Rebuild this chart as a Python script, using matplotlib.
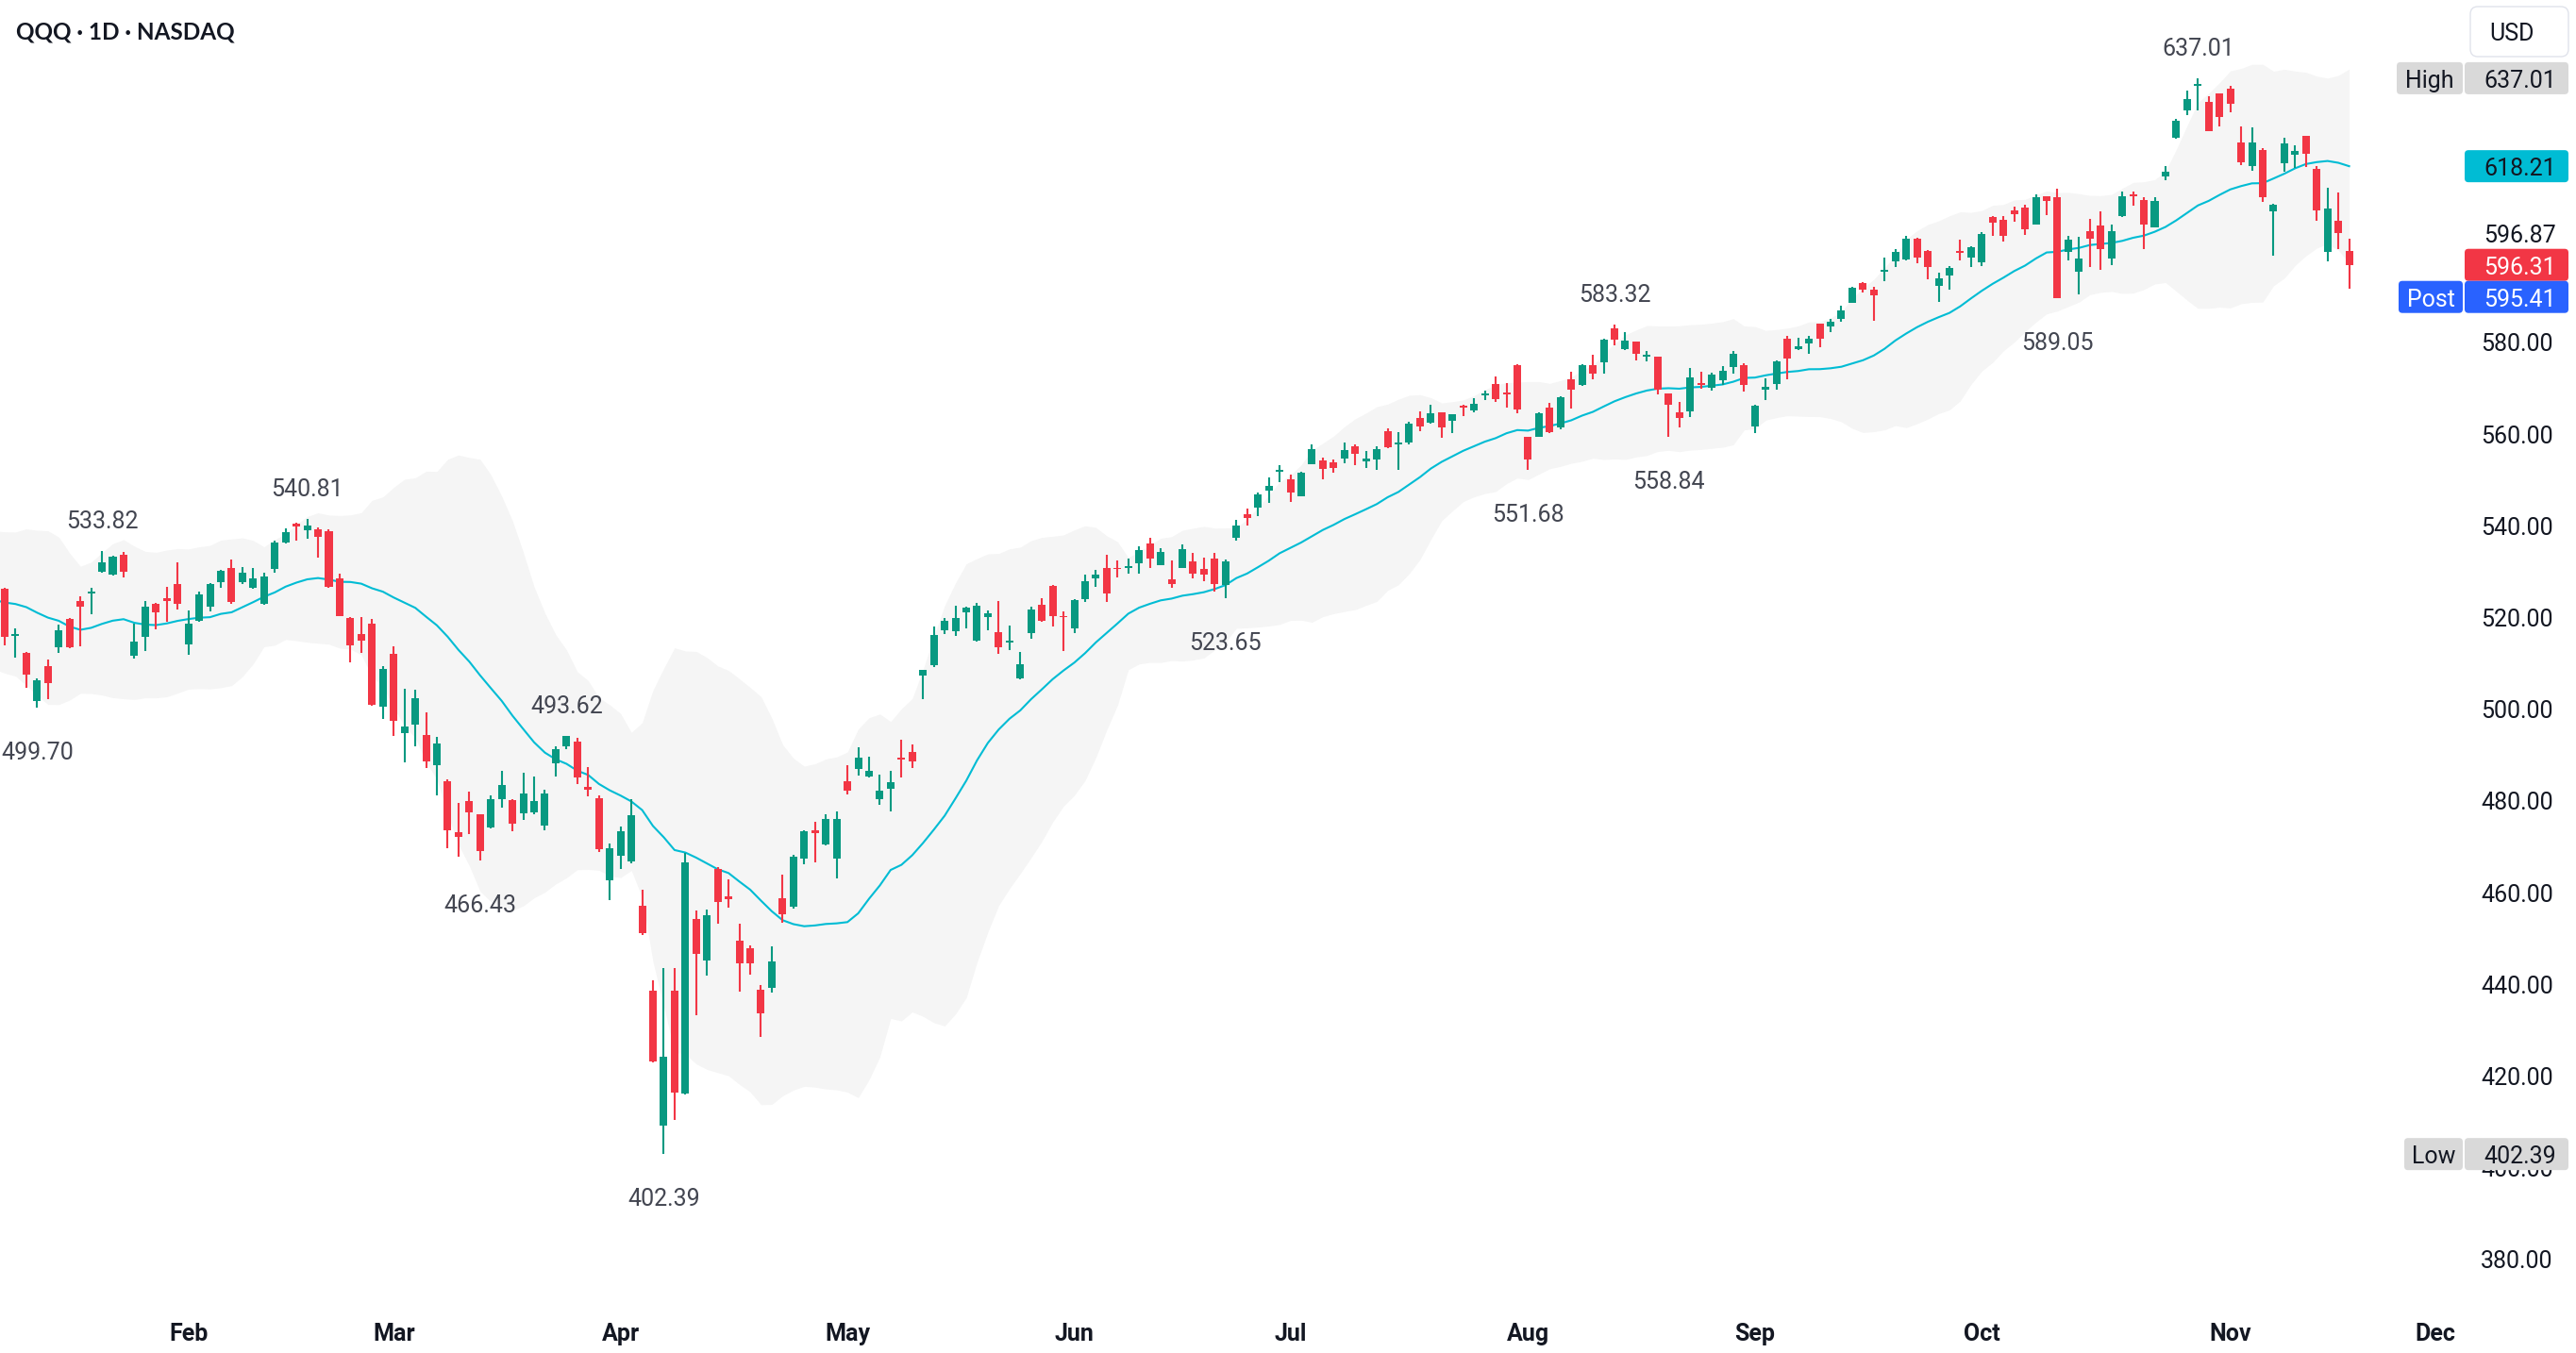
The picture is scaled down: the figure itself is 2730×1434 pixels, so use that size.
import numpy as np
import pandas as pd
import matplotlib
matplotlib.use("Agg")
import matplotlib.pyplot as plt
from matplotlib import font_manager
from matplotlib.patches import FancyBboxPatch
from matplotlib.transforms import IdentityTransform, ScaledTranslation

plt.rcParams['font.family'] = ['Roboto', 'DejaVu Sans']

# trading days shown on the chart (2025)
trading_days = {
    1: [7, 8, 10, 13, 14, 15, 16, 17, 21, 22, 23, 24, 27, 28, 29, 30, 31],
    2: [3, 4, 5, 6, 7, 10, 11, 12, 13, 14, 18, 19, 20, 21, 24, 25, 26, 27, 28],
    3: [3, 4, 5, 6, 7, 10, 11, 12, 13, 14, 17, 18, 19, 20, 21, 24, 25, 26, 27, 28, 31],
    4: [1, 2, 3, 4, 7, 8, 9, 10, 11, 14, 15, 16, 17, 21, 22, 23, 24, 25, 28, 29, 30],
    5: [1, 2, 5, 6, 7, 8, 9, 12, 13, 14, 15, 16, 19, 20, 21, 22, 23, 27, 28, 29, 30],
    6: [2, 3, 4, 5, 6, 9, 10, 11, 12, 13, 16, 17, 18, 20, 23, 24, 25, 26, 27, 30],
    7: [1, 2, 3, 7, 8, 9, 10, 11, 14, 15, 16, 17, 18, 21, 22, 23, 24, 25, 28, 29, 30, 31],
    8: [1, 4, 5, 6, 7, 8, 11, 12, 13, 14, 15, 18, 19, 20, 21, 22, 25, 26, 27, 28, 29],
    9: [2, 3, 4, 5, 8, 9, 10, 11, 12, 15, 16, 17, 18, 19, 22, 23, 24, 25, 26, 29, 30],
    10: [1, 2, 3, 6, 7, 8, 9, 10, 13, 14, 15, 16, 17, 20, 21, 22, 23, 24, 27, 28, 29, 30, 31],
    11: [3, 4, 5, 6, 7, 10, 11, 12, 13, 14, 17, 18],
}
# empty future sessions on the time axis (up to the Dec label)
future_days = ["2025-11-19", "2025-11-20", "2025-11-21", "2025-11-24",
               "2025-11-25", "2025-11-26", "2025-11-28", "2025-12-01"]

opens = [
    525.7, 515.3, 511.6, 501.1, 508.8, 513.0, 519.1, 522.9, 524.7, 529.4, 528.8, 533.0, 511.0, 515.1, 522.4, 523.6, 526.8,
    513.5, 518.6, 521.7, 527.2, 530.2, 527.1, 525.8, 522.4, 529.9, 535.8, 539.9, 538.4, 538.6, 538.3, 527.9, 519.3, 515.7, 518.1, 500.0,
    511.4, 494.1, 496.1, 493.8, 487.1, 483.6, 472.6, 479.4, 476.4, 473.7, 479.7, 479.5, 476.8, 477.0, 474.0, 487.7, 491.4, 492.3, 482.4, 480.0, 462.0,
    467.4, 466.2, 456.6, 438.1, 408.5, 438.1, 415.5, 453.7, 444.6, 464.6, 458.6, 449.0, 447.2, 438.2, 438.7, 458.1, 456.3, 466.8, 473.1, 470.0, 466.9,
    483.6, 486.4, 484.7, 479.7, 482.1, 488.8, 490.1, 506.8, 509.0, 516.7, 516.5, 520.6, 514.3, 519.4, 516.2, 513.9, 506.2, 516.1, 522.2, 526.3, 519.6,
    517.1, 523.4, 527.9, 530.1, 530.1, 530.1, 531.2, 535.6, 530.9, 527.7, 530.3, 531.6, 529.9, 532.2, 526.6, 536.7, 541.9, 543.3, 547.1, 551.1,
    549.6, 545.9, 552.9, 553.6, 553.3, 554.1, 556.7, 553.5, 553.8, 560.0, 557.2, 557.6, 562.9, 561.8, 564.1, 562.2, 565.4, 564.6, 567.8, 570.4, 568.2, 574.4,
    558.7, 558.9, 565.1, 560.8, 571.4, 570.2, 574.4, 575.0, 582.4, 578.0, 579.5, 576.2, 576.2, 568.2, 564.1, 564.4, 570.5, 569.6, 571.2, 574.0, 574.4,
    561.1, 569.0, 570.4, 580.1, 577.9, 579.2, 583.4, 582.9, 584.6, 588.1, 592.3, 590.8, 594.9, 597.0, 597.4, 602.1, 599.3, 591.8, 594.0, 599.1, 598.0,
    596.8, 606.7, 606.1, 608.2, 608.8, 605.0, 611.2, 611.1, 599.2, 594.9, 603.7, 604.8, 597.6, 606.9, 611.6, 610.4, 604.5, 615.5, 624.1, 629.9, 635.3, 631.8, 633.6,
    634.7, 623.0, 617.9, 621.4, 607.9, 618.5, 620.3, 624.4, 617.2, 599.2, 605.9, 599.3,
]
highs = [
    525.9, 517.1, 511.8, 506.1, 510.3, 517.8, 519.3, 524.1, 525.8, 533.82, 532.9, 533.7, 518.1, 522.9, 522.6, 526.0, 531.4,
    521.0, 525.0, 527.0, 529.8, 532.1, 530.5, 530.1, 529.1, 536.2, 538.9, 540.0, 540.81, 539.0, 538.6, 528.9, 519.4, 519.6, 519.1, 508.8,
    513.1, 503.9, 503.7, 498.7, 493.4, 484.1, 479.0, 481.4, 476.6, 480.6, 485.9, 479.7, 485.5, 484.8, 481.8, 491.4, 493.62, 493.1, 486.7, 480.6, 470.1,
    473.8, 479.7, 460.1, 440.3, 443.0, 443.0, 468.0, 455.5, 455.7, 465.0, 462.2, 452.6, 447.9, 439.2, 447.7, 463.3, 467.7, 473.1, 474.8, 476.4, 477.2,
    487.3, 491.1, 489.1, 485.1, 485.9, 492.8, 491.7, 508.0, 517.4, 519.2, 522.0, 521.8, 522.5, 520.9, 522.9, 517.6, 511.9, 521.7, 523.6, 526.5, 520.7,
    523.4, 528.8, 529.8, 533.0, 531.9, 532.2, 534.9, 536.8, 534.6, 531.9, 535.4, 533.4, 532.5, 533.5, 532.0, 540.7, 543.1, 546.6, 550.0, 552.6,
    550.5, 551.1, 557.2, 554.3, 553.8, 557.6, 557.2, 555.7, 556.8, 560.6, 559.9, 562.0, 564.4, 565.9, 564.2, 563.8, 565.9, 567.3, 568.9, 571.9, 570.5, 574.6,
    558.9, 564.2, 566.3, 567.7, 573.1, 574.7, 576.7, 580.2, 583.32, 581.6, 579.6, 577.5, 576.3, 568.3, 566.4, 573.8, 573.1, 572.8, 574.2, 577.6, 574.9,
    565.8, 571.6, 575.5, 580.8, 580.5, 580.8, 583.5, 584.6, 587.5, 591.5, 592.5, 591.5, 597.8, 599.8, 602.6, 602.3, 599.5, 594.7, 596.1, 601.8, 600.4,
    603.5, 606.9, 607.0, 609.0, 609.5, 611.6, 611.3, 612.9, 602.6, 602.4, 606.3, 607.9, 605.2, 612.4, 612.4, 611.0, 611.0, 617.9, 628.2, 634.3, 637.01, 633.0, 633.8,
    635.3, 626.5, 626.3, 621.7, 609.6, 624.0, 622.3, 624.5, 617.9, 613.1, 612.1, 602.1,
]
lows = [
    513.3, 510.7, 504.1, 499.7, 501.7, 511.6, 512.8, 513.1, 520.2, 529.2, 528.6, 528.2, 510.4, 512.0, 516.9, 518.4, 521.2,
    511.2, 518.5, 520.7, 525.8, 522.3, 526.7, 525.7, 522.1, 529.2, 535.6, 536.1, 536.5, 532.5, 525.8, 519.7, 509.6, 511.6, 500.2, 497.2,
    493.6, 487.9, 491.4, 486.5, 480.7, 469.0, 467.3, 472.1, 466.43, 473.4, 477.9, 472.7, 475.2, 476.4, 473.1, 484.7, 490.6, 483.0, 480.5, 468.3, 457.7,
    464.6, 465.9, 450.2, 422.3, 402.39, 409.8, 415.3, 432.7, 441.4, 452.7, 456.2, 437.8, 441.5, 428.0, 437.6, 452.8, 456.0, 465.5, 466.1, 469.7, 462.6,
    480.8, 485.0, 484.5, 478.5, 477.1, 484.5, 486.5, 501.7, 508.5, 515.9, 515.3, 517.0, 514.2, 516.7, 511.4, 512.4, 505.9, 514.7, 518.4, 517.4, 512.0,
    516.1, 522.7, 526.0, 522.7, 528.2, 529.0, 529.0, 530.1, 530.8, 525.8, 530.2, 528.0, 527.4, 525.1, 523.65, 536.2, 539.4, 541.6, 544.5, 549.0,
    544.7, 545.8, 552.8, 549.6, 551.0, 553.1, 552.7, 552.0, 551.7, 556.4, 551.5, 557.2, 560.0, 561.7, 558.6, 559.6, 563.3, 564.2, 566.8, 566.5, 565.1, 563.9,
    551.68, 558.7, 559.6, 560.5, 565.0, 569.9, 571.4, 572.6, 578.8, 577.7, 575.5, 575.2, 568.1, 558.84, 560.9, 563.2, 569.2, 568.8, 570.2, 572.5, 568.7,
    559.6, 566.8, 569.0, 571.4, 577.7, 577.0, 578.4, 581.6, 584.0, 588.0, 590.3, 584.1, 592.8, 595.8, 597.3, 596.7, 593.2, 588.2, 591.0, 597.2, 595.9,
    596.1, 602.7, 601.3, 605.7, 602.9, 605.0, 607.2, 589.05, 597.2, 589.9, 595.8, 595.3, 596.3, 606.8, 609.2, 599.7, 604.4, 614.8, 623.8, 629.0, 629.9, 625.4, 626.4,
    629.6, 618.1, 616.9, 610.0, 598.4, 616.6, 617.4, 617.6, 605.9, 597.0, 599.7, 591.2,
]
closes = [
    515.1, 515.7, 507.0, 505.7, 505.0, 516.7, 513.0, 521.7, 525.1, 531.4, 532.7, 529.4, 514.2, 521.7, 520.5, 522.9, 522.3,
    518.1, 524.5, 526.8, 529.5, 522.7, 529.1, 527.9, 528.4, 535.8, 538.0, 539.3, 539.4, 537.0, 526.0, 519.8, 513.3, 514.4, 500.3, 508.2,
    496.9, 495.6, 501.9, 488.1, 491.9, 472.9, 471.6, 477.0, 468.4, 479.7, 482.8, 474.5, 481.0, 479.4, 481.0, 490.7, 493.6, 484.5, 481.8, 468.9, 469.1,
    472.8, 476.2, 450.5, 422.5, 423.6, 415.9, 466.1, 446.1, 454.4, 457.4, 457.9, 444.0, 444.0, 433.1, 444.5, 454.6, 467.3, 472.7, 472.3, 475.5, 475.5,
    481.7, 488.8, 485.9, 481.7, 483.5, 488.5, 488.0, 507.9, 515.5, 518.6, 519.2, 521.6, 522.0, 520.3, 513.0, 514.3, 509.2, 521.1, 518.6, 519.8, 519.4,
    523.2, 527.3, 528.7, 524.7, 529.9, 530.6, 534.1, 532.3, 533.6, 526.8, 534.3, 528.9, 528.8, 526.8, 531.6, 539.5, 541.1, 546.2, 548.1, 551.7,
    546.7, 550.9, 556.1, 551.9, 552.1, 556.0, 555.2, 554.1, 556.1, 556.5, 557.4, 561.6, 561.0, 563.9, 560.9, 563.7, 565.2, 566.1, 568.0, 567.0, 568.0, 564.8,
    553.8, 563.9, 559.9, 567.4, 569.0, 574.5, 572.5, 579.9, 580.0, 579.7, 577.0, 576.8, 569.0, 565.7, 563.0, 571.8, 570.2, 572.3, 573.3, 576.9, 570.2,
    565.5, 569.8, 575.2, 575.8, 578.6, 580.3, 580.2, 583.9, 586.3, 591.4, 590.8, 589.6, 595.2, 599.1, 602.1, 597.8, 595.8, 593.4, 595.6, 598.9, 600.2,
    603.0, 605.5, 602.7, 607.4, 604.1, 611.1, 610.3, 589.1, 601.8, 597.6, 602.0, 599.7, 603.7, 611.2, 611.2, 605.2, 610.2, 616.7, 627.7, 632.5, 635.6, 625.5, 628.6,
    631.4, 618.7, 623.0, 611.1, 609.5, 622.7, 621.2, 620.6, 608.1, 608.6, 603.3, 596.31,
]
# closes before the visible range (Dec 6 2024 - Jan 6 2025), only feed the 20-day bands
warmup_close = [526.5, 522.4, 520.6, 529.9, 526.5, 530.5, 538.2, 535.8, 516.5, 514.2,
                518.7, 522.9, 530.0, 529.6, 522.6, 515.6, 511.2, 510.2, 518.6, 524.5]

# swing high / low markers
high_marks = ["2025-01-22", "2025-02-19", "2025-03-25", "2025-08-13", "2025-10-29"]
low_marks = ["2025-01-13", "2025-03-13", "2025-04-07", "2025-06-23", "2025-08-01",
             "2025-08-20", "2025-10-10"]

post_price = 595.41
lower_band_label = 596.87

GREEN = "#089981"
RED = "#f23645"
CYAN = "#00bcd4"
INK = "#131722"

dates = pd.to_datetime([f"2025-{m:02d}-{d:02d}" for m, days in trading_days.items() for d in days])
df = pd.DataFrame({"open": opens, "high": highs, "low": lows, "close": closes}, index=dates)
n = len(df)
x = np.arange(n)

# bollinger bands 20, 2
allc = pd.Series(warmup_close + closes)
basis = allc.rolling(20).mean()
sd = allc.rolling(20).std(ddof=0)
upper = basis + 2 * sd
lower = basis - 2 * sd
xb = np.arange(-len(warmup_close), n)
ok = basis.notna().values

W, H = 2730, 1434
fig = plt.figure(figsize=(W / 100, H / 100), dpi=100)
ax = fig.add_axes([0, 54 / H, 2612 / W, 1380 / H])
ax.set_xlim(-0.437, 227.69)
ax.set_ylim(370.12, 654.07)

ax.fill_between(xb[ok], lower[ok], upper[ok], color="#f5f5f5", linewidth=0, zorder=0)
ax.plot(xb[ok], basis[ok], color=CYAN, lw=1.5, zorder=1)

up = df["close"].values >= df["open"].values
col = np.where(up, GREEN, RED)
ax.vlines(x, df["low"], df["high"], colors=col, linewidth=1.5, zorder=3)
bot = np.minimum(df["open"], df["close"])
hgt = np.maximum(np.abs(df["close"] - df["open"]), 0.4)
ax.bar(x, hgt, bottom=bot, width=0.7, color=col, linewidth=0, zorder=4)

for d in high_marks:
    i = df.index.get_loc(pd.Timestamp(d))
    v = df["high"].iloc[i]
    ax.annotate(f"{v:.2f}", (i, v), xytext=(0, 31), textcoords="offset pixels",
                ha="center", va="center", fontsize=18, color="#434651")
for d in low_marks:
    i = df.index.get_loc(pd.Timestamp(d))
    v = df["low"].iloc[i]
    ax.annotate(f"{v:.2f}", (i, v), xytext=(0, -48), textcoords="offset pixels",
                ha="center", va="center", fontsize=18, color="#434651")

# time axis: first session of each month
all_days = dates.append(pd.to_datetime(future_days))
first = pd.Series(np.arange(len(all_days)), index=all_days).groupby(all_days.to_period("M")).first()
first = first.iloc[1:]
ax.set_xticks(first.values)
ax.set_xticklabels([p.strftime("%b") for p in first.index], fontweight="bold")
ax.tick_params(axis="x", length=0, pad=15.5, labelsize=18, labelcolor=INK)

ax.yaxis.tick_right()
ax.set_yticks(np.arange(380, 581, 20))
ax.set_yticklabels([f"{v:.2f}" for v in np.arange(380, 581, 20)])
ax.tick_params(axis="y", length=0, pad=12.2, labelsize=18, labelcolor=INK)
down = ScaledTranslation(0, -3 / 100, fig.dpi_scale_trans)
for lab in ax.get_yticklabels():
    lab.set_transform(lab.get_transform() + down)
for s in ax.spines.values():
    s.set_visible(False)

px = IdentityTransform()


def ypix(price):
    return ax.transData.transform((0, price))[1]


def tag(yc, text, fc, tc, left=None, ltext=None):
    fig.patches.append(FancyBboxPatch((2612, yc - 17), 110, 34, boxstyle="round,pad=0,rounding_size=4",
                                      transform=px, fc=fc, ec="none"))
    fig.text(2709, yc - 3, text, transform=px, ha="right", va="center", fontsize=18, color=tc)
    if ltext:
        fig.patches.append(FancyBboxPatch((left, yc - 17), 2610 - left, 34, boxstyle="round,pad=0,rounding_size=4",
                                          transform=px, fc=fc, ec="none"))
        fig.text((left + 2610) / 2, yc - 3, ltext, transform=px, ha="center", va="center", fontsize=18, color=tc)


y_last = ypix(closes[-1])
tag(ypix(max(highs)), f"{max(highs):.2f}", "#d9d9d9", INK, 2540, "High")
tag(ypix(basis.iloc[-1]), "618.21", CYAN, INK)
tag(y_last, f"{closes[-1]:.2f}", RED, "white")
tag(y_last - 34, f"{post_price:.2f}", "#2962ff", "white", 2542, "Post")
tag(ypix(min(lows)), f"{min(lows):.2f}", "#d9d9d9", INK, 2548, "Low")
fig.text(2709, y_last + 31, f"{lower_band_label:.2f}", transform=px, ha="right", va="center",
         fontsize=18, color=INK)

# currency button
fig.patches.append(FancyBboxPatch((2618, H - 60), 104, 53, boxstyle="round,pad=0,rounding_size=8",
                                  transform=px, fc="white", ec="#e0e3eb", lw=1))
fig.text(2662, H - 36, "USD", transform=px, ha="center", va="center", fontsize=18, color=INK)

# title: narrow bold face if there is one
names = {f.name for f in font_manager.fontManager.ttflist}
if "Liberation Sans Narrow" in names:
    tfam, tsize = ["Liberation Sans Narrow", "DejaVu Sans"], 20.5
else:
    tfam, tsize = ["Lato", "DejaVu Sans"], 17.5
fig.text(17, H - 34, "QQQ · 1D · NASDAQ", transform=px, ha="left", va="center",
         fontsize=tsize, fontweight="bold", color=INK, family=tfam)

fig.savefig("out.png", dpi=100, facecolor="white")
